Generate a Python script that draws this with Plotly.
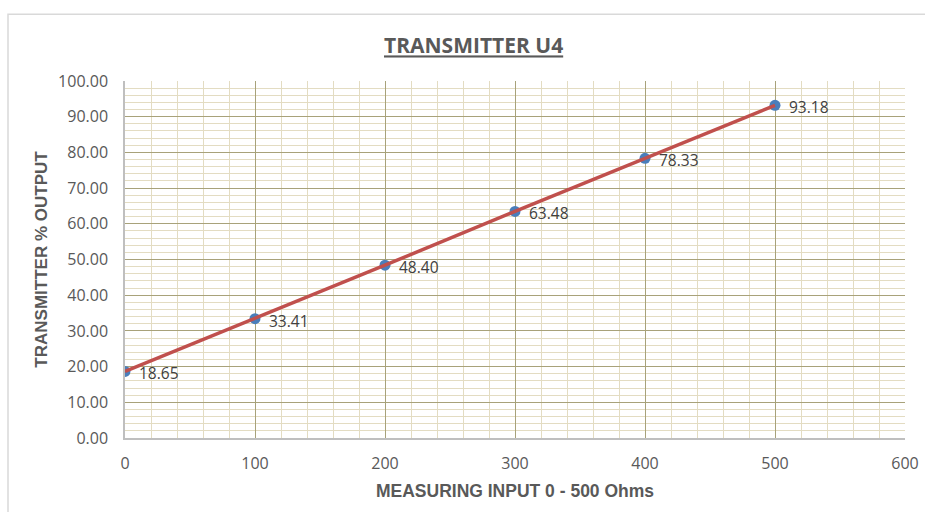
import plotly.graph_objects as go

# Calibration points: measuring input (Ohms) vs transmitter output (%)
input_ohms = [0, 100, 200, 300, 400, 500]
output_pct = [18.65, 33.41, 48.40, 63.48, 78.33, 93.18]
labels = [f"{v:.2f}" for v in output_pct]

text_color = "#595959"
major_grid = "#a8a27a"
minor_grid = "#e3dcc2"
label_font = "Open Sans, sans-serif"
title_font = "Liberation Sans, Arial, sans-serif"

fig = go.Figure()

# Data points
fig.add_trace(go.Scatter(
    x=input_ohms, y=output_pct, mode="markers",
    marker=dict(color="#4a7ebb", size=11),
    showlegend=False, hoverinfo="skip",
))
# Connecting line
fig.add_trace(go.Scatter(
    x=input_ohms, y=output_pct, mode="lines",
    line=dict(color="#c0504d", width=3.5),
    showlegend=False, hoverinfo="skip",
))

# Value labels to the right of each point
annotations = [
    dict(x=xv, y=yv, text=t, xref="x", yref="y", showarrow=False,
         xanchor="left", yanchor="middle", xshift=12, yshift=-2,
         font=dict(family=label_font, size=15.5, color="#404040"))
    for xv, yv, t in zip(input_ohms, output_pct, labels)
]

fig.update_layout(
    width=925, height=512,
    margin=dict(l=125, r=20, t=81, b=74),
    paper_bgcolor="white", plot_bgcolor="white",
    title=dict(
        text="<b><u>TRANSMITTER U4</u></b>",
        x=0.512, xanchor="center", y=0.91, yanchor="middle",
        font=dict(family=label_font, size=21, color=text_color),
    ),
    font=dict(family=label_font, color=text_color),
    annotations=annotations,
    shapes=[dict(
        type="rect", xref="paper", yref="paper",
        x0=-0.150, x1=1.05, y0=-0.3, y1=1.187,
        line=dict(color="#d9d9d9", width=1.5), layer="below",
    )],
)

fig.update_xaxes(
    range=[0, 600], tick0=0, dtick=100, automargin=False,
    showgrid=True, gridcolor=major_grid, gridwidth=1,
    minor=dict(dtick=20, showgrid=True, gridcolor=minor_grid, gridwidth=1),
    showline=True, linecolor="#bfbfbf", linewidth=1.5,
    zeroline=False, ticks="", ticklabelstandoff=10,
    tickfont=dict(size=16, color=text_color),
    title=dict(text="<b>MEASURING INPUT 0 - 500 Ohms</b>",
               font=dict(family=title_font, size=17.5, color=text_color),
               standoff=12),
)
fig.update_yaxes(
    range=[0, 100], tick0=0, dtick=10, tickformat=".2f", automargin=False,
    showgrid=True, gridcolor=major_grid, gridwidth=1,
    minor=dict(dtick=2, showgrid=True, gridcolor=minor_grid, gridwidth=1),
    showline=True, linecolor="#bfbfbf", linewidth=1.5,
    zeroline=False, ticks="", ticklabelstandoff=12,
    tickfont=dict(size=16, color=text_color),
    title=dict(text="<b>TRANSMITTER % OUTPUT</b>",
               font=dict(family=title_font, size=17, color=text_color),
               standoff=6),
)

fig.write_html("out.html")
